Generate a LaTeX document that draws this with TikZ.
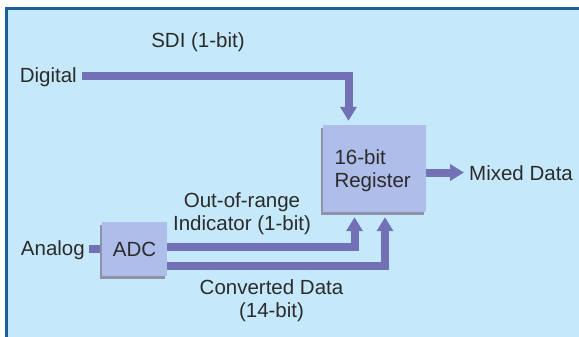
\documentclass[tikz,border=0pt]{standalone}
\usepackage{fontspec}
\setmainfont{Liberation Sans}
\usetikzlibrary{arrows.meta,shadows}

\definecolor{panel}{HTML}{C5E9FB}
\definecolor{framec}{HTML}{1D5E98}
\definecolor{boxfill}{HTML}{AEBDEA}
\definecolor{boxshade}{HTML}{8E92A8}
\definecolor{busc}{HTML}{7371B6}
\definecolor{ink}{HTML}{2B2B2B}

\tikzset{
  blk/.style={fill=boxfill, inner sep=0pt, text=ink,
    general shadow={fill=boxshade, shadow xshift=-2pt, shadow yshift=-3pt}},
  lbl/.style={inner sep=0pt, text=ink, font=\fontsize{20.5}{23}\selectfont},
  bus/.style={draw=busc, line width=8pt, line join=miter},
  tip/.style={-{Triangle[width=16pt,length=14pt]}},
}

\begin{document}
\begin{tikzpicture}[x=1pt,y=-1pt]
  \useasboundingbox (0,0) rectangle (579,337);
  % page and panel
  \fill[white] (0,0) rectangle (579,337);
  \fill[panel] (6.5,9) rectangle (600,360);
  \draw[framec, line width=3pt] (6.5,360) -- (6.5,9) -- (600,9);

  % blocks
  \node[blk, lbl, minimum width=103pt, minimum height=87pt,
        text width=80pt, align=left] (reg) at (374.5,168.5)
        {\rule{0pt}{20pt}16-bit\\Register};
  \node[blk, lbl, minimum width=65pt, minimum height=54pt] (adc) at (134.5,249) {ADC};

  % signal names
  \node[lbl, anchor=base east] (dig) at (77,82.5) {Digital};
  \node[lbl, anchor=base east] (ana) at (85,255) {Analog};
  \node[lbl, anchor=base west] (mix) at (469,180.5) {Mixed Data};
  \node[lbl, anchor=base] (sdi) at (198,48) {SDI (1-bit)};
  \node[lbl, align=center] (oor) at (242,213.5) {Out-of-range\\Indicator (1-bit)};
  \node[lbl, align=center] (conv) at (271.5,300.5) {Converted Data\\(14-bit)};

  % buses
  \draw[bus, tip, shorten <=5pt, shorten >=4pt]
    ([yshift=1pt]dig.east) -| ([xshift=-26pt]reg.north);
  \draw[bus, shorten <=4pt, shorten >=2pt]
    ([yshift=1pt]ana.east) -- ([yshift=1pt]ana.east -| adc.west);
  \draw[bus, tip, shorten >=5pt]
    ([yshift=2.5pt]adc.east) -| ([xshift=-20pt]reg.south);
  \draw[bus, tip, shorten >=5pt]
    ([yshift=-16.5pt]adc.east) -| ([xshift=10.5pt]reg.south);
  \draw[bus, tip, shorten >=5pt]
    ([yshift=-4pt]reg.east) -- ([yshift=-4pt]reg.east -| mix.west);
\end{tikzpicture}
\end{document}
